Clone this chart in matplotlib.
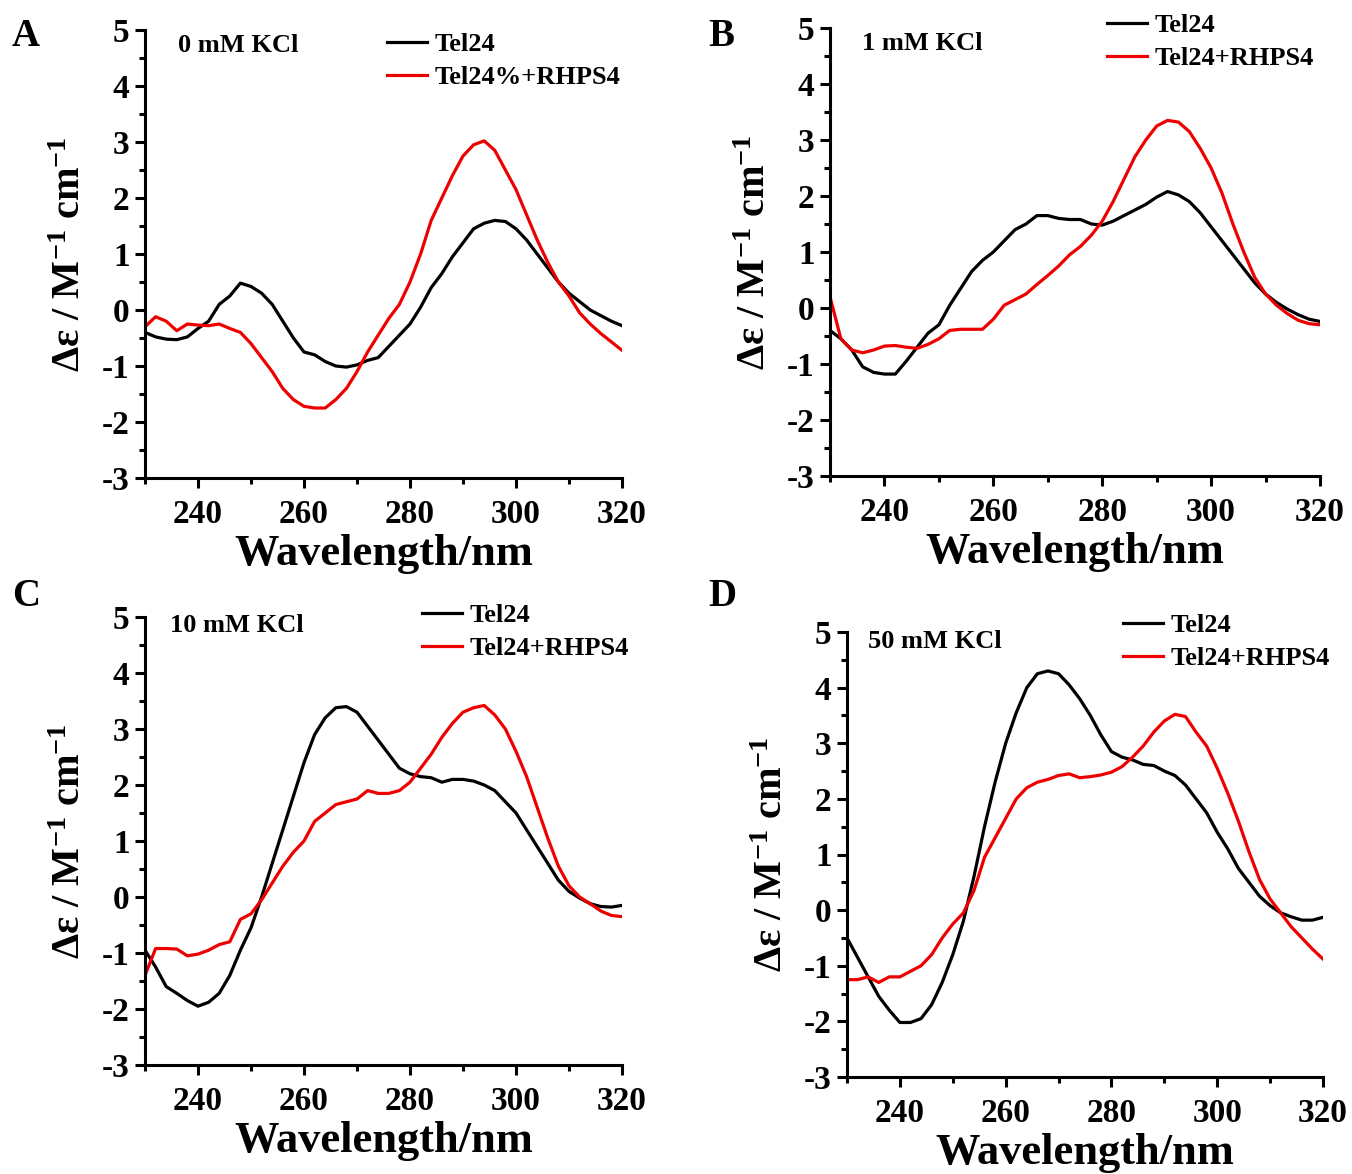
import numpy as np
import matplotlib
matplotlib.use("Agg")
import matplotlib.pyplot as plt

plt.rcParams['font.family'] = ['Liberation Serif', 'DejaVu Serif']
plt.rcParams['font.weight'] = 'bold'
plt.rcParams['axes.unicode_minus'] = False
plt.rcParams['mathtext.fontset'] = 'custom'
plt.rcParams['mathtext.rm'] = 'Liberation Serif:bold'
plt.rcParams['mathtext.bf'] = 'Liberation Serif:bold'
plt.rcParams['mathtext.it'] = 'Liberation Serif:bold'
plt.rcParams['mathtext.default'] = 'bf'

# wavelength grid (nm), every 2 nm
wl = list(range(230, 321, 2))

# Panel A: 0 mM KCl
a_tel = [-0.40, -0.48, -0.52, -0.53, -0.48, -0.33, -0.20, 0.10, 0.25, 0.48,
         0.42, 0.30, 0.10, -0.20, -0.50, -0.75, -0.80, -0.92, -1.00, -1.02,
         -0.98, -0.90, -0.85, -0.65, -0.45, -0.25, 0.05, 0.40, 0.65, 0.95,
         1.20, 1.45, 1.55, 1.60, 1.58, 1.45, 1.25, 1.00, 0.75, 0.50,
         0.30, 0.15, 0.00, -0.10, -0.20, -0.28]
a_rhps = [-0.30, -0.12, -0.20, -0.37, -0.25, -0.27, -0.28, -0.25, -0.33, -0.40,
          -0.60, -0.85, -1.10, -1.40, -1.60, -1.72, -1.75, -1.75, -1.60, -1.40,
          -1.10, -0.75, -0.45, -0.15, 0.10, 0.50, 1.00, 1.60, 2.00, 2.40,
          2.75, 2.95, 3.02, 2.85, 2.50, 2.15, 1.70, 1.25, 0.85, 0.50,
          0.25, -0.05, -0.25, -0.42, -0.57, -0.72]

# Panel B: 1 mM KCl
b_tel = [-0.40, -0.55, -0.75, -1.05, -1.15, -1.18, -1.18, -0.95, -0.70, -0.45,
         -0.30, 0.05, 0.35, 0.65, 0.85, 1.00, 1.20, 1.40, 1.50, 1.65,
         1.65, 1.60, 1.58, 1.58, 1.50, 1.48, 1.55, 1.65, 1.75, 1.85,
         1.98, 2.08, 2.02, 1.90, 1.70, 1.45, 1.20, 0.95, 0.70, 0.45,
         0.25, 0.10, -0.02, -0.12, -0.20, -0.24]
b_rhps = [0.20, -0.55, -0.75, -0.80, -0.75, -0.68, -0.67, -0.70, -0.72, -0.65,
          -0.55, -0.40, -0.38, -0.38, -0.38, -0.20, 0.05, 0.15, 0.25, 0.42,
          0.58, 0.75, 0.95, 1.10, 1.30, 1.55, 1.90, 2.30, 2.70, 3.00,
          3.25, 3.35, 3.32, 3.15, 2.85, 2.50, 2.05, 1.50, 1.00, 0.55,
          0.25, 0.05, -0.10, -0.22, -0.28, -0.30]

# Panel C: 10 mM KCl
c_tel = [-0.95, -1.25, -1.60, -1.72, -1.85, -1.95, -1.88, -1.72, -1.40, -0.95,
         -0.55, 0.00, 0.60, 1.20, 1.80, 2.40, 2.90, 3.20, 3.38, 3.40,
         3.30, 3.05, 2.80, 2.55, 2.30, 2.20, 2.15, 2.13, 2.05, 2.10,
         2.10, 2.07, 2.00, 1.90, 1.70, 1.50, 1.20, 0.90, 0.60, 0.30,
         0.10, -0.02, -0.12, -0.17, -0.18, -0.15]
c_rhps = [-1.40, -0.92, -0.92, -0.93, -1.05, -1.02, -0.95, -0.85, -0.80, -0.40,
          -0.30, -0.05, 0.25, 0.55, 0.80, 1.00, 1.35, 1.50, 1.65, 1.70,
          1.75, 1.90, 1.85, 1.85, 1.90, 2.05, 2.30, 2.55, 2.85, 3.10,
          3.30, 3.38, 3.42, 3.25, 3.00, 2.60, 2.15, 1.60, 1.05, 0.55,
          0.20, 0.00, -0.12, -0.25, -0.33, -0.35]

# Panel D: 50 mM KCl
d_tel = [-0.50, -0.85, -1.20, -1.55, -1.80, -2.02, -2.02, -1.95, -1.70, -1.30,
         -0.80, -0.20, 0.60, 1.50, 2.30, 3.00, 3.55, 4.00, 4.25, 4.30,
         4.25, 4.05, 3.80, 3.50, 3.15, 2.85, 2.75, 2.70, 2.62, 2.60,
         2.50, 2.42, 2.25, 2.00, 1.75, 1.40, 1.10, 0.75, 0.50, 0.25,
         0.08, -0.05, -0.12, -0.18, -0.18, -0.13]
d_rhps = [-1.25, -1.25, -1.20, -1.30, -1.20, -1.20, -1.10, -1.00, -0.80, -0.50,
          -0.25, -0.05, 0.35, 0.95, 1.30, 1.65, 2.00, 2.20, 2.30, 2.35,
          2.42, 2.45, 2.38, 2.40, 2.43, 2.48, 2.58, 2.75, 2.95, 3.20,
          3.40, 3.52, 3.48, 3.20, 2.95, 2.55, 2.10, 1.60, 1.05, 0.55,
          0.20, -0.05, -0.30, -0.50, -0.70, -0.88]

letters = ['A', 'B', 'C', 'D']
conditions = ['0 mM KCl', '1 mM KCl', '10 mM KCl', '50 mM KCl']
red_labels = ['Tel24%+RHPS4', 'Tel24+RHPS4', 'Tel24+RHPS4', 'Tel24+RHPS4']
tel_series = [a_tel, b_tel, c_tel, d_tel]
rhps_series = [a_rhps, b_rhps, c_rhps, d_rhps]

W, H = 1352, 1174
# axes boxes in pixels: left, top, right, bottom
boxes = [(145, 30, 622, 478), (830, 28, 1320, 476),
         (145, 617, 622, 1065), (847, 632, 1323, 1077)]
# legend: left of handle, centre of first row (pixels)
leg_px = [(387, 46), (1107, 27), (422, 617), (1123, 627)]
# condition label: left, centre (pixels)
cond_px = [(178, 45), (862, 44), (170, 625), (868, 642)]
letter_px = [(12, 36), (708, 36), (12, 597), (708, 597)]

fig = plt.figure(figsize=(W / 100, H / 100), dpi=100)
red = '#ee0000'

for i in range(4):
    l, t, r, b = boxes[i]
    ax = fig.add_axes([l / W, 1 - b / H, (r - l) / W, (b - t) / H])
    ax.plot(wl, tel_series[i], color='black', lw=2.3, label='Tel24')
    ax.plot(wl, rhps_series[i], color=red, lw=2.3, label=red_labels[i])
    ax.set_xlim(230, 320)
    ax.set_ylim(-3, 5)
    ax.set_xticks([240, 260, 280, 300, 320])
    ax.set_xticks([230, 250, 270, 290, 310], minor=True)
    ax.set_yticks(np.arange(-3, 6, 1))
    ax.set_yticks(np.arange(-2.5, 5, 1), minor=True)
    ax.spines['top'].set_visible(False)
    ax.spines['right'].set_visible(False)
    for s in ['left', 'bottom']:
        ax.spines[s].set_linewidth(2.2)
    ax.tick_params(which='major', length=7, width=2.2, labelsize=24)
    ax.tick_params(axis='x', which='major', pad=8)
    ax.tick_params(axis='y', which='major', pad=4)
    ax.tick_params(which='minor', length=4, width=2.2)
    for lab in ax.get_xticklabels() + ax.get_yticklabels():
        lab.set_fontweight('bold')
    ax.set_xlabel('Wavelength/nm', fontsize=32, fontweight='bold', labelpad=3)
    ax.set_ylabel('Δε / M$^{-1}$ cm$^{-1}$', fontsize=29, fontweight='bold', labelpad=9)

    cx, cy = cond_px[i]
    fig.text(cx / W, 1 - cy / H, conditions[i], fontsize=19, fontweight='bold',
             va='center', ha='left')

    fs = 19
    row_h = fs * 100 / 72
    lx, ly = leg_px[i]
    ax.legend(loc='upper left', bbox_to_anchor=(lx / W, 1 - (ly - row_h / 2) / H),
              bbox_transform=fig.transFigure, frameon=False,
              prop={'size': fs, 'weight': 'bold'}, handlelength=1.5,
              handletextpad=0.3, labelspacing=0.35, borderpad=0, borderaxespad=0)

    px, py = letter_px[i]
    fig.text(px / W, 1 - py / H, letters[i], fontsize=28, fontweight='bold',
             va='center', ha='left')

fig.savefig('out.png', dpi=100)
